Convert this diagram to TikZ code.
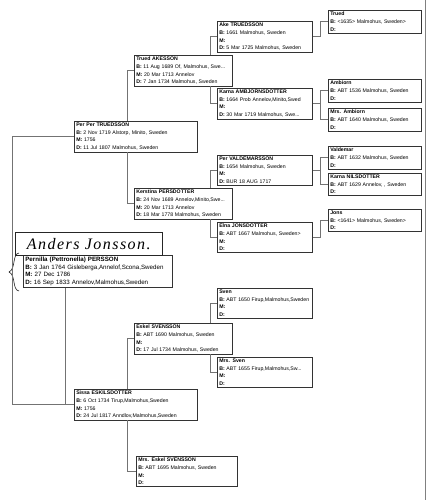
\documentclass[tikz,border=0pt]{standalone}
\usepackage{fontspec}
\newfontfamily\chartfont{Liberation Sans}
\newfontfamily\handfont{Liberation Serif}[LetterSpace=9]
\usepackage{tikz}
\usetikzlibrary{positioning}

\begin{document}
\begin{tikzpicture}[x=1pt, y=-1pt,
    every node/.style={font=\chartfont\fontsize{5.2}{7.6}\selectfont},
    person/.style={draw=black!80, line width=.55pt, fill=white, anchor=north west,
      align=left, inner xsep=2pt, inner ysep=1.8pt, text width=#1},
    link/.style={draw=black!55, line width=.45pt}]
	\useasboundingbox (0,0) rectangle (426,500);
	\fill[white] (0,0) rectangle (426,500);
	% columns of the connectors
	\coordinate (xl) at (12,0);
	\coordinate (xr) at (65,0);
	\coordinate (xa) at (127,0);
	\coordinate (xb) at (210,0);
	\coordinate (xc) at (320,0);

	% great-grandparents
	\node[person=89pt] (trued) at (328,10)
	{\textbf{Trued}\\ \textbf{B:} <1635> Malmohus, Sweden>\\ \textbf{D:}};
	\node[person=89pt] (ambiorn) at (328,79)
	{\textbf{Ambiorn}\\ \textbf{B:} ABT 1536 Malmohus, Sweden\\ \textbf{D:}};
	\node[person=89pt] (mrsambiorn) at (328,108)
	{\textbf{Mrs. Ambiorn}\\ \textbf{B:} ABT 1640 Malmohus, Sweden\\ \textbf{D:}};
	\node[person=89pt] (valdemar) at (328,146)
	{\textbf{Valdemar}\\ \textbf{B:} ABT 1632 Malmohus, Sweden\\ \textbf{D:}};
	\node[person=89pt] (karnan) at (328,173)
	{\textbf{Karna NILSDOTTER}\\ \textbf{B:} ABT 1629 Annelov, , Sweden\\ \textbf{D:}};
	\node[person=89pt] (jons) at (328,209)
	{\textbf{Jons}\\ \textbf{B:} <1641> Malmohus, Sweden>\\ \textbf{D:}};

	% third column
	\node[person=91pt] (ake) at (217,21)
	{\textbf{Ake TRUEDSSON}\\ \textbf{B:} 1661 Malmohus, Sweden\\ \textbf{M:}\\ \textbf{D:} 5 Mar 1725 Malmohus, Sweden};
	\node[person=91pt] (karnaa) at (217,88)
	{\textbf{Karna AMBJORNSDOTTER}\\ \textbf{B:} 1664 Prob Annelov,Minito,Swed\\ \textbf{M:}\\ \textbf{D:} 30 Mar 1719 Malmohus, Swe...};
	\node[person=91pt] (perv) at (217,155)
	{\textbf{Per VALDEMARSSON}\\ \textbf{B:} 1654 Malmohus, Sweden\\ \textbf{M:}\\ \textbf{D:} BUR 18 AUG 1717};
	\node[person=91pt] (elna) at (217,222)
	{\textbf{Elna JONSDOTTER}\\ \textbf{B:} ABT 1667 Malmohus, Sweden>\\ \textbf{M:}\\ \textbf{D:}};
	\node[person=91pt] (sven) at (217,288)
	{\textbf{Sven}\\ \textbf{B:}~ABT~1650~Firup,Malmohus,Sweden\\ \textbf{M:}\\ \textbf{D:}};
	\node[person=91pt] (mrssven) at (217,357)
	{\textbf{Mrs. Sven}\\ \textbf{B:} ABT 1655 Firup,Malmohus,Sw...\\ \textbf{M:}\\ \textbf{D:}};

	% second column
	\node[person=94pt] (truedak) at (134,55)
	{\textbf{Trued AKESSON}\\ \textbf{B:} 11 Aug 1689 Of, Malmohus, Swe...\\ \textbf{M:} 20 Mar 1713 Annelov\\ \textbf{D:} 7 Jan 1734 Malmohus, Sweden};
	\node[person=94pt] (kerstina) at (134,188)
	{\textbf{Kerstina PERSDOTTER}\\ \textbf{B:} 24 Nov 1689 Annelov,Minito,Swe...\\ \textbf{M:} 20 Mar 1713 Annelov\\ \textbf{D:} 18 Mar 1778 Malmohus, Sweden};
	\node[person=94pt] (eskel) at (134,323)
	{\textbf{Eskel SVENSSON}\\ \textbf{B:} ABT 1690 Malmohus, Sweden\\ \textbf{M:}\\ \textbf{D:} 17 Jul 1734 Malmohus, Sweden};
	\node[person=97pt] (mrseskel) at (136,456)
	{\textbf{Mrs. Eskel SVENSSON}\\ \textbf{B:} ABT 1695 Malmohus, Sweden\\ \textbf{M:}\\ \textbf{D:}};

	% parents
	\node[person=119pt] (perper) at (74,121)
	{\textbf{Per Per TRUEDSSON}\\ \textbf{B:} 2 Nov 1719 Alstorp, Minito, Sweden\\ \textbf{M:} 1756\\ \textbf{D:} 11 Jul 1807 Malmohus, Sweden};
	\node[person=119pt] (sissa) at (74,389)
	{\textbf{Sissa ESKILSDOTTER}\\ \textbf{B:} 6 Oct 1734 Tirup,Malmohus,Sweden\\ \textbf{M:} 1756\\ \textbf{D:} 24 Jul 1817 Anndlov,Malmohus,Sweden};

	% the person of the chart
	\node[person=145pt, font=\chartfont\fontsize{6.2}{7.7}\selectfont] (pernilla) at (23,255)
	{\textbf{Pernilla (Pettronella) PERSSON}\\ \textbf{B:} 3 Jan 1764 Gisleberga,Annelof,Scona,Sweden\\ \textbf{M:} 27 Dec 1786\\ \textbf{D:} 16 Sep 1833 Annelov,Malmohus,Sweden};
	\node[draw=black!85, line width=.6pt, anchor=north west, minimum width=147pt, minimum height=23pt,
	  inner sep=0pt, font=\handfont\itshape\fontsize{16}{16}\selectfont] (anders) at (15,232) {Anders Jonsson.};
	\draw[black!85, line width=.6pt] (19,253) .. controls (12,254) and (16,269) .. (9,272)
	  .. controls (16,275) and (12,290) .. (19,291);

	% connectors
	\draw[link] (perper.west) -| (xl |- sissa.west) -- (sissa.west);
	\draw[link] (pernilla.south -| xr) -- (xr |- sissa.west);
	\draw[link] (perper.north -| xa) |- (truedak.west);
	\draw[link] (perper.south -| xa) |- (kerstina.west);
	\draw[link] (sissa.north -| xa) |- (eskel.west);
	\draw[link] (sissa.south -| xa) |- (mrseskel.west);
	\draw[link] (truedak.north -| xb) |- (ake.west);
	\draw[link] (truedak.south -| xb) |- (karnaa.west);
	\draw[link] (kerstina.north -| xb) |- (perv.west);
	\draw[link] (kerstina.south -| xb) |- (elna.west);
	\draw[link] (eskel.north -| xb) |- (sven.west);
	\draw[link] (eskel.south -| xb) |- (mrssven.west);
	\draw[link] (ake.east) -- (ake.east -| xc) |- (trued.west);
	\draw[link] (karnaa.east) -- (karnaa.east -| xc);
	\draw[link] (ambiorn.west) -| (xc |- mrsambiorn.west) -- (mrsambiorn.west);
	\draw[link] (perv.east) -- (perv.east -| xc);
	\draw[link] (valdemar.west) -| (xc |- karnan.west) -- (karnan.west);
	\draw[link] (elna.east) -- (elna.east -| xc) |- (jons.west);

	% edge of the sheet
	\draw[black!50, line width=.5pt] (425,0) -- (425,500);
\end{tikzpicture}
\end{document}
